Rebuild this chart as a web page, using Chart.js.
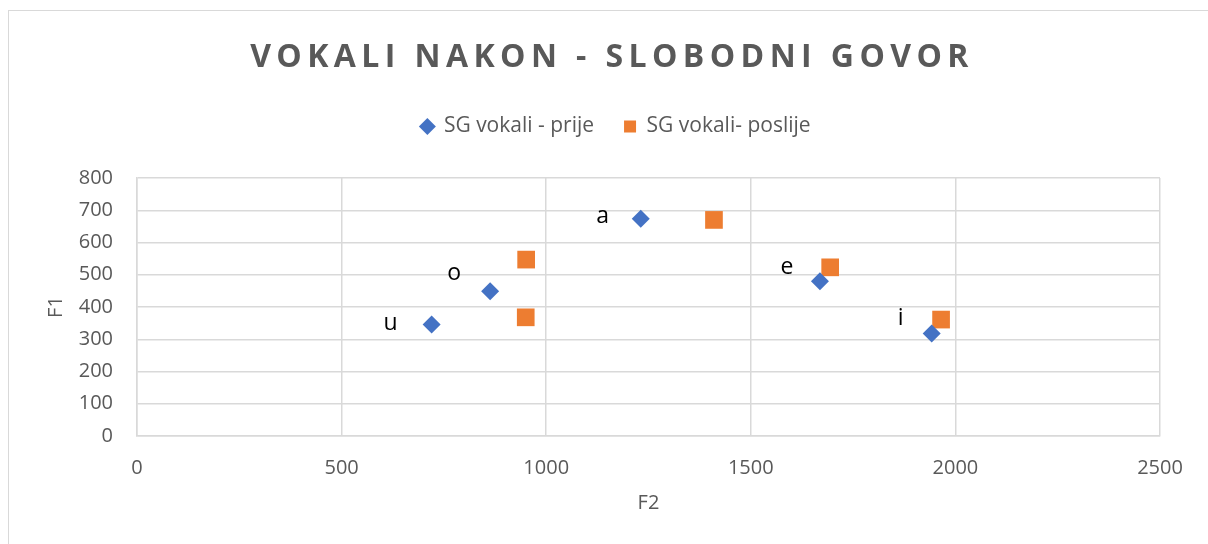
<!DOCTYPE html>
<html lang="hr">
<head>
  <meta charset="UTF-8">
  <title>Vokali nakon - slobodni govor</title>
  <script src="https://cdn.jsdelivr.net/npm/chart.js"></script>
  <style>
    body { margin: 0; background: #fff; overflow: hidden; }
    #wrap { position: relative; width: 1208px; height: 544px; }
    #frame { position: absolute; left: 8px; top: 10px; width: 1300px; height: 600px; border: 1px solid #d9d9d9; }
    canvas { position: absolute; left: 0; top: 0; }
  </style>
</head>
<body>
<div id="wrap">
  <div id="frame"></div>
  <canvas id="vokaliChart" width="1208" height="544"></canvas>
</div>

<script>
// vowels and formants (Hz)
const vowels = ['u', 'o', 'a', 'e', 'i'];
const prijeF2 = [720, 863, 1231, 1669, 1942];
const prijeF1 = [346, 449, 674, 480, 318];
const poslijeF2 = [951, 950, 1410, 1694, 1965];
const poslijeF1 = [547, 368, 670, 523, 361];

const grey = '#595959';
const gridGrey = '#d9d9d9';
const fontFamily = '"Open Sans", "Liberation Sans", sans-serif';

const toPoints = (xs, ys) => xs.map((x, i) => ({ x: x, y: ys[i] }));

// title drawn by hand so it can have the wide letter spacing
const titlePlugin = {
  id: 'spacedTitle',
  afterDraw(chart) {
    const ctx = chart.ctx;
    ctx.save();
    ctx.font = 'bold 32px ' + fontFamily;
    ctx.fillStyle = grey;
    ctx.textAlign = 'center';
    ctx.textBaseline = 'middle';
    ctx.letterSpacing = '5.4px';
    ctx.fillText('VOKALI NAKON - SLOBODNI GOVOR', 612, 58);
    ctx.restore();
  }
};

// vowel letters next to the "prije" points
const labelOffsets = [[-41, -1], [-36, -18], [-38, -2], [-33, -14], [-31, -15]];
const vowelLabels = {
  id: 'vowelLabels',
  afterDatasetsDraw(chart) {
    const ctx = chart.ctx;
    const meta = chart.getDatasetMeta(0);
    ctx.save();
    ctx.font = '23px ' + fontFamily;
    ctx.fillStyle = '#000';
    ctx.textAlign = 'center';
    ctx.textBaseline = 'middle';
    meta.data.forEach((pt, i) => {
      const off = labelOffsets[i];
      ctx.fillText(vowels[i], pt.x + off[0], pt.y + off[1]);
    });
    ctx.restore();
  }
};

// more room under the legend, and nudge it right like the original
const legendTweak = {
  id: 'legendTweak',
  beforeInit(chart) {
    const fit = chart.legend.fit;
    chart.legend.fit = function () {
      fit.bind(chart.legend)();
      this.height += 31;
    };
  },
  afterLayout(chart) {
    chart.legend.left += 36;
    chart.legend.right += 36;
  }
};

new Chart(document.getElementById('vokaliChart'), {
  type: 'scatter',
  data: {
    datasets: [
      {
        label: 'SG vokali - prije',
        data: toPoints(prijeF2, prijeF1),
        backgroundColor: '#4472C4',
        borderColor: '#4472C4',
        pointStyle: 'rectRot',
        pointRadius: 9,
        pointHoverRadius: 9,
        borderWidth: 0
      },
      {
        label: 'SG vokali- poslije',
        data: toPoints(poslijeF2, poslijeF1),
        backgroundColor: '#ED7D31',
        borderColor: '#ED7D31',
        pointStyle: 'rect',
        pointRadius: 12.5,
        pointHoverRadius: 12.5,
        borderWidth: 0
      }
    ]
  },
  options: {
    responsive: false,
    animation: false,
    layout: { padding: { top: 86, right: 48, bottom: 0, left: 0 } },
    plugins: {
      title: { display: false },
      tooltip: { enabled: false },
      legend: {
        position: 'top',
        labels: {
          usePointStyle: true,
          boxWidth: 12,
          boxHeight: 12,
          padding: 30,
          color: grey,
          font: { family: fontFamily, size: 21 }
        }
      }
    },
    scales: {
      x: {
        type: 'linear',
        min: 0,
        max: 2500,
        ticks: {
          stepSize: 500,
          color: grey,
          padding: 20,
          font: { family: fontFamily, size: 20 },
          callback: v => String(v)
        },
        grid: { color: gridGrey, lineWidth: 1.5, drawTicks: false },
        border: { color: gridGrey, width: 1.5 },
        title: { display: true, text: 'F2', color: grey, padding: { top: 0, bottom: 29 }, font: { family: fontFamily, size: 20 } },
        afterFit(scale) { scale.height = 108; }
      },
      y: {
        min: 0,
        max: 800,
        ticks: { stepSize: 100, color: grey, padding: 24, font: { family: fontFamily, size: 20 } },
        grid: { color: gridGrey, lineWidth: 1.5, drawTicks: false },
        border: { color: gridGrey, width: 1.5 },
        title: { display: true, text: 'F1', color: grey, padding: { top: 44, bottom: 0 }, font: { family: fontFamily, size: 20 } },
        afterFit(scale) { scale.width = 137; }
      }
    }
  },
  plugins: [titlePlugin, vowelLabels, legendTweak]
});
</script>
</body>
</html>
